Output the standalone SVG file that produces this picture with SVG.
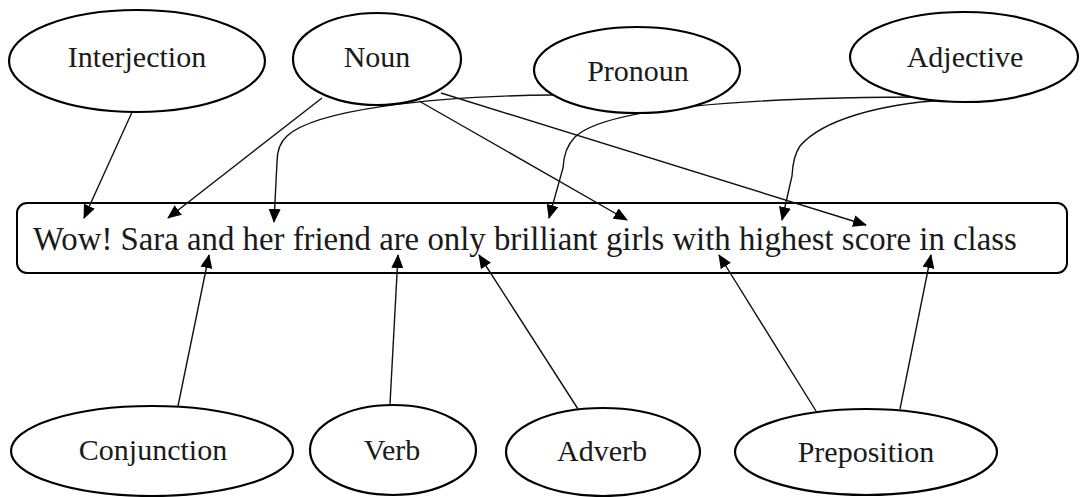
<svg xmlns="http://www.w3.org/2000/svg" width="1081" height="497" viewBox="0 0 1081 497">
<style>
.n ellipse{fill:#fff;stroke:#000;stroke-width:2.2}
.n text{font-family:"Liberation Serif","Times New Roman",serif;font-size:30px;fill:#1a1a1a;text-anchor:middle}
.sent rect{fill:#fff;stroke:#000;stroke-width:2}
.sent text{font-family:"Liberation Serif","Times New Roman",serif;font-size:32.8px;fill:#1a1a1a}
.c path,.c line{fill:none;stroke:#111;stroke-width:1.4;marker-end:url(#ah)}
</style>
<defs>
<marker id="ah" markerUnits="userSpaceOnUse" markerWidth="14" markerHeight="12" refX="13" refY="6" orient="auto">
<path d="M0,0 L14,6 L0,12 Z" fill="#000"/>
</marker>
</defs>
<rect width="1081" height="497" fill="#fff"/>
<g id="sentence" class="sent">
<rect x="17" y="203" width="1050" height="70" rx="10"/>
<text x="33" y="250">Wow! Sara and her friend are only brilliant girls with highest score in class</text>
</g>
<g class="c" id="connectors">
<line x1="133" y1="110" x2="84" y2="218"/>
<line x1="322" y1="98" x2="168" y2="218"/>
<path d="M553,95 C430,96 315,110 287,136 Q277,145 277,162 L274,222"/>
<path d="M935,97 C790,97 610,103 575,137 Q564,148 563,168 L549,218"/>
<path d="M945,100 C880,104 822,120 800,146 Q793,156 792,176 L782,220"/>
<line x1="419" y1="101" x2="627" y2="220"/>
<line x1="441" y1="93" x2="866" y2="225"/>
<line x1="178" y1="406" x2="209" y2="255"/>
<line x1="390" y1="404" x2="398" y2="255"/>
<line x1="578" y1="409" x2="479" y2="255"/>
<line x1="816" y1="411" x2="719" y2="255"/>
<line x1="900" y1="409" x2="931" y2="255"/>
</g>
<g id="interjection" class="n"><ellipse cx="137" cy="61" rx="128" ry="51"/><text x="137" y="67">Interjection</text></g>
<g id="noun" class="n"><ellipse cx="377" cy="59" rx="84" ry="46"/><text x="377" y="67">Noun</text></g>
<g id="pronoun" class="n"><ellipse cx="637" cy="70" rx="103" ry="43"/><text x="638" y="81">Pronoun</text></g>
<g id="adjective" class="n"><ellipse cx="964" cy="57" rx="114" ry="45"/><text x="965" y="67">Adjective</text></g>
<g id="conjunction" class="n"><ellipse cx="152" cy="451" rx="141" ry="45"/><text x="153" y="460">Conjunction</text></g>
<g id="verb" class="n"><ellipse cx="393" cy="450" rx="83" ry="45"/><text x="392" y="460">Verb</text></g>
<g id="adverb" class="n"><ellipse cx="603" cy="452" rx="97" ry="44"/><text x="602" y="461">Adverb</text></g>
<g id="preposition" class="n"><ellipse cx="866" cy="452" rx="131" ry="43"/><text x="866" y="462">Preposition</text></g>
</svg>
